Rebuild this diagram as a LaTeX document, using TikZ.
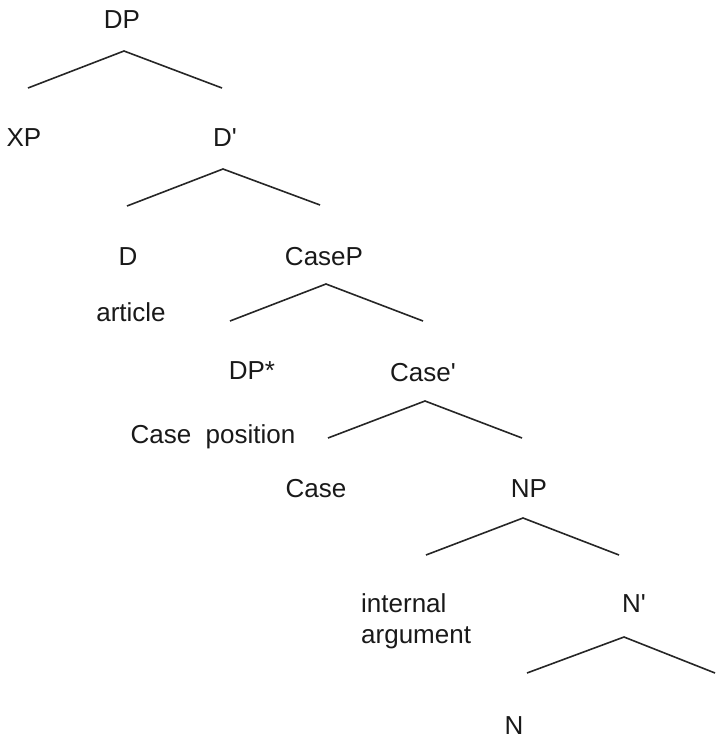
\documentclass[tikz,border=0pt]{standalone}
\usepackage{fontspec}
\setmainfont{Liberation Sans}[Ligatures=TeXOff]
\begin{document}
\begin{tikzpicture}[x=1pt,y=-1pt,
  lbl/.style={inner sep=0pt,anchor=base,font=\fontsize{26}{31}\selectfont,text=black!90},
  branch/.style={line width=1.6pt,line join=miter,color=black!85}]
\useasboundingbox (0,0) rectangle (715,739);
% labels
\node[lbl] (dp) at (122,28) {DP};
\node[lbl] (xp) at (24,146) {XP};
\node[lbl] (dbar) at (225,146) {D'};
\node[lbl] (d) at (128,265) {D};
\node[lbl] (casep) at (324,265) {CaseP};
\node[lbl] (article) at (131,321) {article};
\node[lbl] (dpstar) at (252,379) {DP*};
\node[lbl] (casebar) at (423,381) {Case'};
\node[lbl] (casepos) at (213,443) {Case~ position};
\node[lbl] (case) at (316,497) {Case};
\node[lbl] (np) at (529,497) {NP};
\node[lbl,anchor=base west,align=left] (intarg) at (361,643) {internal\\argument};
\node[lbl] (nbar) at (634,612) {N'};
\node[lbl] (n) at (514,734) {N};
% branch coordinates
\coordinate (a1) at (124,51);  \coordinate (l1) at (28,88);   \coordinate (r1) at (222,88);
\coordinate (a2) at (223,169); \coordinate (l2) at (127,206); \coordinate (r2) at (320,205);
\coordinate (a3) at (326,284); \coordinate (l3) at (230,321); \coordinate (r3) at (423,321);
\coordinate (a4) at (425,401); \coordinate (l4) at (328,438); \coordinate (r4) at (522,438);
\coordinate (a5) at (523,518); \coordinate (l5) at (426,555); \coordinate (r5) at (619,555);
\coordinate (a6) at (624,637); \coordinate (l6) at (527,673); \coordinate (r6) at (715,673);
\foreach \i in {1,...,6}{\draw[branch] (l\i) -- (a\i) -- (r\i);}
\end{tikzpicture}
\end{document}
